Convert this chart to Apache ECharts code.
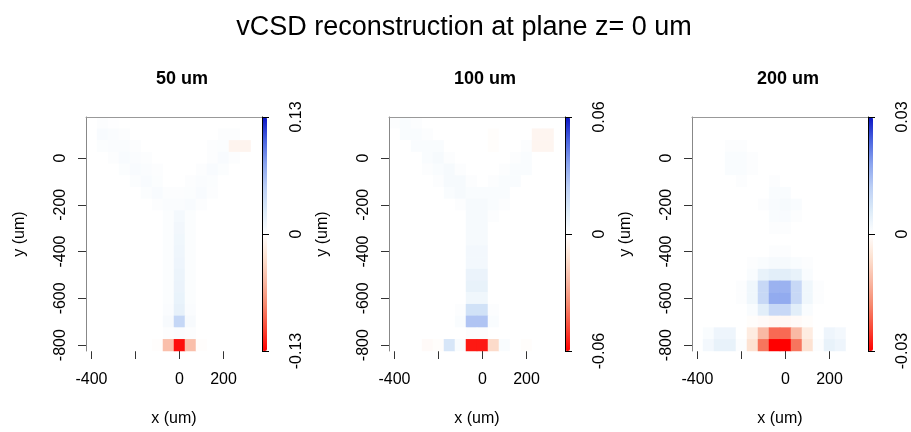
<!DOCTYPE html>
<html><head><meta charset="utf-8">
<script src="https://cdn.jsdelivr.net/npm/echarts@6/dist/echarts.min.js"></script>
<style>html,body{margin:0;padding:0;background:#fff}#chart{width:911px;height:432px}</style>
</head><body><div id="chart"></div>
<script>
// ---------------- data ----------------
const mainTitle = 'vCSD reconstruction at plane z= 0 um';
const panelTitles = ['50 um', '100 um', '200 um'];
const colorLimits = [0.13, 0.06, 0.03];
const xCats = [-400, -350, -300, -250, -200, -150, -100, -50, 0, 50, 100, 150, 200, 250, 300, 350];
const yCats = [-800, -750, -700, -650, -600, -550, -500, -450, -400, -350, -300, -250, -200, -150, -100, -50, 0, 50, 100, 150];
const xTickValues = [-400, -200, 0, 200];
const xLabelValues = [-400, 0, 200];
const yTickValues = [-800, -600, -400, -200, 0];

// rows listed from top (y = 150) down to bottom (y = -800); columns x = -400 ... 350
const csd50 = [
  [0, 0.002, 0.001, 0, 0, 0, 0, 0, 0, 0, 0, 0, 0, 0, 0, 0],
  [0, 0.005, 0.004, 0.002, 0, 0, 0, 0, 0, 0, 0, 0, 0.002, 0.002, 0, 0],
  [0, 0.003, 0.004, 0.004, 0.002, 0, 0, 0, 0, 0, 0, 0.002, 0.003, -0.010, -0.010, 0],
  [0, 0, 0.002, 0.005, 0.004, 0.002, 0, 0, 0, 0, 0, 0.002, 0.005, 0.002, 0, 0],
  [0, 0, 0, 0.003, 0.005, 0.004, 0.002, 0, 0, 0, 0.002, 0.005, 0.003, 0, 0, 0],
  [0, 0, 0, 0, 0.003, 0.005, 0.003, 0, 0, 0.002, 0.004, 0.003, 0, 0, 0, 0],
  [0, 0, 0, 0, 0, 0.003, 0.005, 0.002, 0.002, 0.003, 0.005, 0.002, 0, 0, 0, 0],
  [0, 0, 0, 0, 0, 0, 0.002, 0.004, 0.004, 0.005, 0.002, 0, 0, 0, 0, 0],
  [0, 0, 0, 0, 0, 0, 0, 0.003, 0.008, 0.003, 0, 0, 0, 0, 0, 0],
  [0, 0, 0, 0, 0, 0, 0, 0.003, 0.010, 0.003, 0, 0, 0, 0, 0, 0],
  [0, 0, 0, 0, 0, 0, 0, 0.003, 0.011, 0.003, 0, 0, 0, 0, 0, 0],
  [0, 0, 0, 0, 0, 0, 0, 0.003, 0.012, 0.003, 0, 0, 0, 0, 0, 0],
  [0, 0, 0, 0, 0, 0, 0, 0.003, 0.013, 0.003, 0, 0, 0, 0, 0, 0],
  [0, 0, 0, 0, 0, 0, 0, 0.003, 0.014, 0.003, 0, 0, 0, 0, 0, 0],
  [0, 0, 0, 0, 0, 0, 0, 0.003, 0.015, 0.003, 0, 0, 0, 0, 0, 0],
  [0, 0, 0, 0, 0, 0, 0, 0.003, 0.016, 0.003, 0, 0, 0, 0, 0, 0],
  [0, 0, 0, 0, 0, 0, 0, 0.004, 0.018, 0.004, 0, 0, 0, 0, 0, 0],
  [0, 0, 0, 0, 0, 0, 0, 0.006, 0.045, 0.006, 0, 0, 0, 0, 0, 0],
  [0, 0, 0, 0, 0, 0, 0, 0.002, 0.004, 0.002, 0, 0, 0, 0, 0, 0],
  [0, 0, 0, 0, 0, 0, -0.002, -0.048, -0.125, -0.048, -0.002, 0, 0, 0, 0, 0]
];
const csd100 = [
  [0.001, 0.002, 0.001, 0, 0, 0, 0, 0, 0, 0, 0, 0, 0, 0, 0, 0],
  [0, 0.002, 0.002, 0.001, 0, 0, 0, 0, 0, -0.001, 0, 0, 0, -0.004, -0.004, 0],
  [0, 0, 0.002, 0.002, 0.002, 0, 0, 0, 0, -0.001, 0, 0, 0.001, -0.004, -0.004, 0],
  [0, 0, 0, 0.002, 0.003, 0.001, 0, 0, 0, 0, 0, 0.001, 0.002, 0, 0, 0],
  [0, 0, 0, 0.001, 0.002, 0.003, 0.001, 0, 0, 0, 0.001, 0.002, 0.002, 0, 0, 0],
  [0, 0, 0, 0, 0.001, 0.003, 0.003, 0.001, 0, 0.001, 0.002, 0.002, 0, 0, 0, 0],
  [0, 0, 0, 0, 0, 0.002, 0.003, 0.002, 0.002, 0.002, 0.002, 0, 0, 0, 0, 0],
  [0, 0, 0, 0, 0, 0, 0.001, 0.003, 0.003, 0.002, 0.001, 0, 0, 0, 0, 0],
  [0, 0, 0, 0, 0, 0, 0, 0.003, 0.003, 0.001, 0, 0, 0, 0, 0, 0],
  [0, 0, 0, 0, 0, 0, 0, 0.003, 0.003, 0, 0, 0, 0, 0, 0, 0],
  [0, 0, 0, 0, 0, 0, 0, 0.003, 0.003, 0, 0, 0, 0, 0, 0, 0],
  [0, 0, 0, 0, 0, 0, 0, 0.004, 0.004, 0, 0, 0, 0, 0, 0, 0],
  [0, 0, 0, 0, 0, 0, 0, 0.004, 0.004, 0, 0, 0, 0, 0, 0, 0],
  [0, 0, 0, 0, 0, 0, 0, 0.007, 0.007, 0, 0, 0, 0, 0, 0, 0],
  [0, 0, 0, 0, 0, 0, 0, 0.008, 0.008, 0, 0, 0, 0, 0, 0, 0],
  [0, 0, 0, 0, 0, 0, 0, 0.005, 0.005, 0, 0, 0, 0, 0, 0, 0],
  [0, 0, 0, 0, 0, 0, 0.001, 0.016, 0.016, 0.001, 0, 0, 0, 0, 0, 0],
  [0, 0, 0, 0, 0, 0, 0.002, 0.027, 0.027, 0.002, 0, 0, 0, 0, 0, 0],
  [0, 0, 0, 0, 0, 0, 0, 0.001, 0.001, 0, 0, 0, 0, 0, 0, 0],
  [0, 0, 0, -0.002, -0.001, 0.014, 0.002, -0.056, -0.056, -0.014, 0.002, 0, -0.001, 0, 0, 0]
];
const csd200 = [
  [0, 0, 0, 0, 0, 0, 0, 0, 0, 0, 0, 0, 0, 0, 0, 0],
  [0, 0, 0, 0, 0, 0, 0, 0, 0, 0, 0, 0, 0, 0, 0, 0],
  [0, 0, 0, 0.0005, 0.0005, 0, 0, 0, 0, 0, 0, 0, 0, 0, 0, 0],
  [0, 0, 0, 0.001, 0.001, 0.0005, 0, 0, 0, 0, 0, 0, 0, 0, 0, 0],
  [0, 0, 0, 0.001, 0.001, 0.0005, 0, 0, 0, 0, 0, 0, 0, 0, 0, 0],
  [0, 0, 0, 0, 0.0005, 0, 0, 0.0005, 0, 0, 0, 0, 0, 0, 0, 0],
  [0, 0, 0, 0, 0, 0, 0, 0.001, 0.001, 0, 0, 0, 0, 0, 0, 0],
  [0, 0, 0, 0, 0, 0, 0.0005, 0.0012, 0.0015, 0.001, 0, 0, 0, 0, 0, 0],
  [0, 0, 0, 0, 0, 0, 0, 0.001, 0.0012, 0.0005, 0, 0, 0, 0, 0, 0],
  [0, 0, 0, 0, 0, 0, 0, 0.0005, 0.0005, 0, 0, 0, 0, 0, 0, 0],
  [0, 0, 0, 0, 0, 0, 0, 0, 0, 0, 0, 0, 0, 0, 0, 0],
  [0, 0, 0, 0, 0, 0, 0, 0.0005, 0.0005, 0, 0, 0, 0, 0, 0, 0],
  [0, 0, 0, 0, 0, 0.0005, 0.001, 0.0015, 0.0015, 0.001, 0.0005, 0, 0, 0, 0, 0],
  [0, 0, 0, 0, 0, 0.001, 0.004, 0.005, 0.005, 0.004, 0.001, 0, 0, 0, 0, 0],
  [0, 0, 0, 0, 0.0005, 0.0025, 0.010, 0.016, 0.016, 0.010, 0.0025, 0.0005, 0, 0, 0, 0],
  [0, 0, 0, 0, 0.0005, 0.0025, 0.010, 0.017, 0.017, 0.010, 0.0025, 0.0005, 0, 0, 0, 0],
  [0, 0, 0, 0, 0, 0.001, 0.005, 0.010, 0.010, 0.005, 0.001, 0, 0, 0, 0, 0],
  [0, 0, 0, 0, 0, -0.0005, -0.001, -0.0015, -0.0015, -0.001, -0.0005, 0, 0, 0, 0, 0],
  [0, 0.001, 0.003, 0.003, 0, -0.004, -0.012, -0.021, -0.021, -0.012, -0.004, 0, 0.003, 0.002, 0, 0],
  [0, 0.002, 0.004, 0.004, 0.0005, -0.006, -0.020, -0.030, -0.030, -0.020, -0.006, 0.0005, 0.004, 0.003, 0, 0]
];
const panelData = [csd50, csd100, csd200];

// diverging palette: red (negative) -> white -> blue (positive)
const palette = ['#ff0000', '#f94a38', '#f68a70', '#f9b9a4', '#fde2d2', '#ffffff',
                 '#dcebf8', '#bccff5', '#8aa4ee', '#4a64df', '#0a14c4'];

// ---------------- layout / option ----------------
const FONT = '"Liberation Sans", Arial, Helvetica, sans-serif';
const panelLefts = [86, 389, 692];
const plotTop = 117, plotW = 176, plotH = 234, barW = 5;

const grids = [], xAxes = [], yAxes = [], series = [], visualMaps = [];
const titles = [{
  text: mainTitle, left: 459, top: 9, textAlign: 'center',
  textStyle: {fontFamily: FONT, fontSize: 27, fontWeight: 'normal', color: '#000'}
}];

const isIn = (arr) => (idx, val) => arr.indexOf(Number(val)) >= 0;

panelData.forEach((rows, i) => {
  const left = panelLefts[i];
  const lim = colorLimits[i];
  const gHeat = grids.length;
  grids.push({left: left, top: plotTop, width: plotW, height: plotH});
  const gBar = grids.length;
  grids.push({left: left + plotW, top: plotTop, width: barW, height: plotH});

  titles.push({
    text: panelTitles[i], left: left + 91, top: 65, textAlign: 'center',
    textStyle: {fontFamily: FONT, fontSize: 18, fontWeight: 'bold', color: '#000'}
  });

  const xi = xAxes.length;
  xAxes.push({
    gridIndex: gHeat, type: 'category', data: xCats.map(String), position: 'bottom',
    axisLine: {show: false},
    axisTick: {show: true, alignWithLabel: true, interval: isIn(xTickValues), length: 8,
               lineStyle: {color: '#333'}},
    axisLabel: {interval: isIn(xLabelValues), margin: 21, fontSize: 16, fontFamily: FONT, color: '#000'},
    name: 'x (um)', nameLocation: 'middle', nameGap: 60,
    nameTextStyle: {fontSize: 16, fontFamily: FONT, color: '#000'}
  });
  xAxes.push({
    gridIndex: gHeat, type: 'category', data: xCats.map(String), position: 'top',
    axisLine: {show: true, lineStyle: {color: '#999'}},
    axisTick: {show: false}, axisLabel: {show: false}, z: 10
  });
  xAxes.push({gridIndex: gBar, type: 'value', show: false, min: 0, max: 1});

  const yi = yAxes.length;
  yAxes.push({
    gridIndex: gHeat, type: 'category', data: yCats.map(String), position: 'left',
    axisLine: {show: true, lineStyle: {color: '#888'}}, z: 10,
    axisTick: {show: true, alignWithLabel: true, interval: isIn(yTickValues), length: 8,
               lineStyle: {color: '#333'}},
    axisLabel: {interval: isIn(yTickValues), rotate: 90, margin: 17, fontSize: 16, fontFamily: FONT, color: '#000'},
    name: 'y (um)', nameLocation: 'middle', nameGap: 58,
    nameTextStyle: {fontSize: 16, fontFamily: FONT, color: '#000'}
  });
  yAxes.push({
    gridIndex: gBar, type: 'value', position: 'right', min: -lim, max: lim, interval: lim,
    axisLine: {show: true, lineStyle: {color: '#000'}},
    axisTick: {show: true, length: 7, lineStyle: {color: '#000'}},
    splitLine: {show: false}, z: 10,
    axisLabel: {rotate: 90, margin: 22, fontSize: 16, fontFamily: FONT, color: '#000',
                showMinLabel: true, showMaxLabel: true,
                formatter: (v) => (Math.abs(v) < 1e-12 ? '0' : String(+v.toFixed(4)))}
  });

  const data = [];
  rows.forEach((row, r) => {
    const yIdx = yCats.length - 1 - r;
    row.forEach((v, c) => data.push([c, yIdx, v]));
  });
  series.push({
    type: 'heatmap', xAxisIndex: xi, yAxisIndex: yi, data: data,
    itemStyle: {borderWidth: 0}, emphasis: {disabled: true}, progressive: 0, animation: false
  });
  visualMaps.push({
    type: 'continuous', seriesIndex: i, dimension: 2, min: -lim, max: lim,
    orient: 'vertical', left: left + plotW, top: plotTop, itemWidth: barW, itemHeight: plotH,
    padding: 0, calculable: false, hoverLink: false, text: null,
    inRange: {color: palette}
  });
});

const chart = echarts.init(document.getElementById('chart'), null, {renderer: 'canvas'});
chart.setOption({
  animation: false,
  backgroundColor: '#fff',
  textStyle: {fontFamily: FONT},
  title: titles,
  grid: grids,
  xAxis: xAxes,
  yAxis: yAxes,
  visualMap: visualMaps,
  series: series
});
</script></body></html>
